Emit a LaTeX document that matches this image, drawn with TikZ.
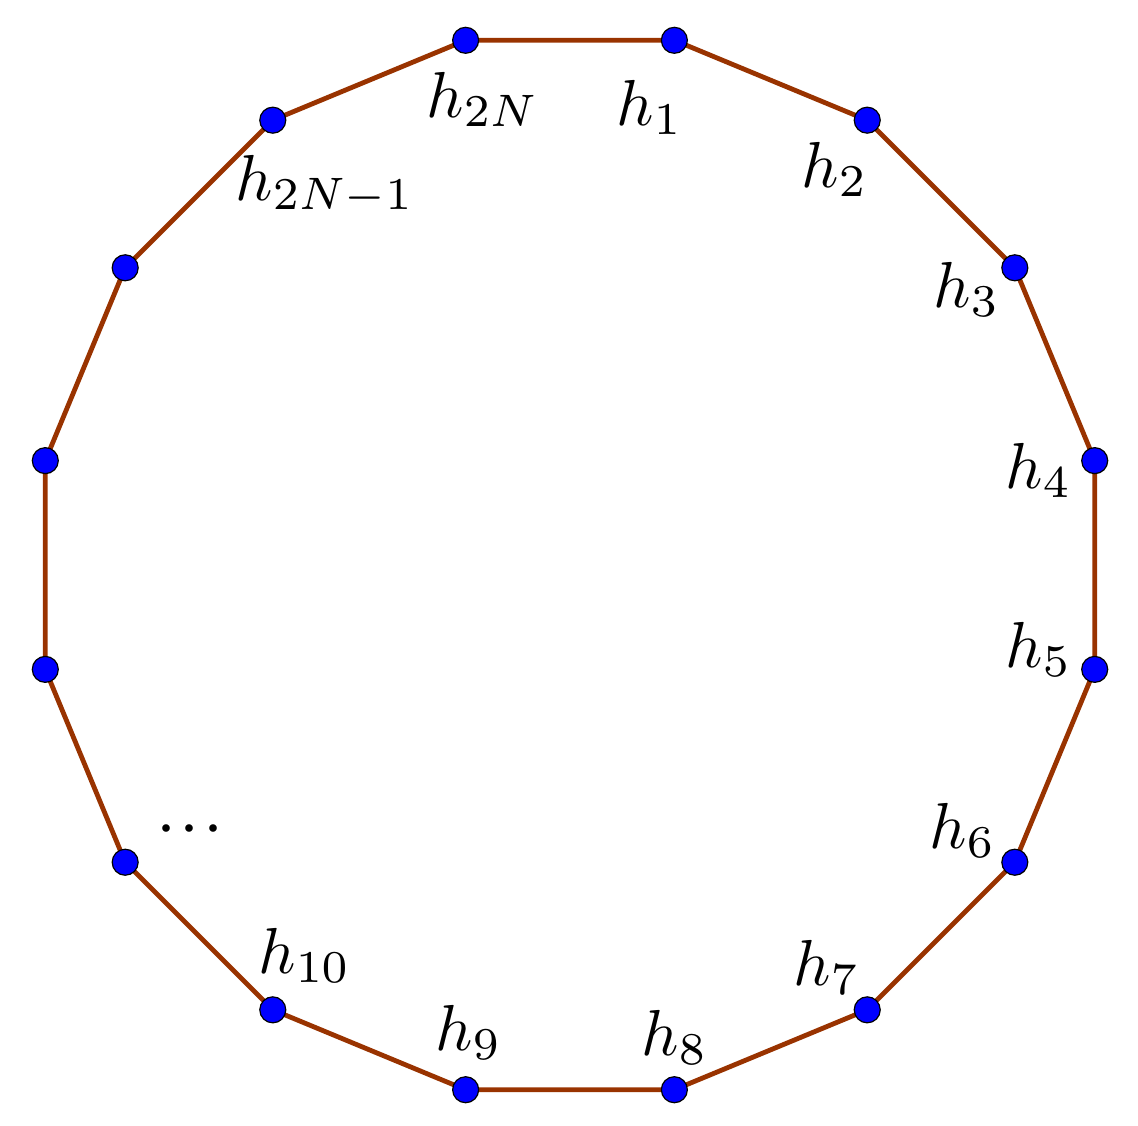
\documentclass[tikz,border=0pt]{standalone}
\usepackage{amsmath}
\usepackage{graphicx}
\DeclareMathSizes{10}{10}{7.4}{5.5}
\definecolor{edgebrown}{RGB}{153,51,0}
\definecolor{dotblue}{RGB}{0,0,255}
\newcommand{\biglbl}[1]{\scalebox{3.25}{$#1$}}
\begin{document}
\begin{tikzpicture}[x=0.5pt,y=-0.5pt,
  vtx/.style={circle,fill=dotblue,draw=black,line width=0.6pt,minimum size=13pt,inner sep=0pt},
  edge/.style={draw=edgebrown,line width=2.4pt},
  lbl/.style={anchor=base west,inner sep=0pt}]
\useasboundingbox (0,0) rectangle (1138,1125);
\foreach \i in {0,...,15}{
  \coordinate (p\i) at ({570+535*cos(78.75-22.5*\i)},{565-535*sin(78.75-22.5*\i)});
}
\draw[edge] (p0)--(p1)--(p2)--(p3)--(p4)--(p5)--(p6)--(p7)--(p8)--(p9)--(p10)--(p11)--(p12)--(p13)--(p14)--(p15)--cycle;
\foreach \i in {0,...,15}{ \node[vtx] (v\i) at (p\i) {}; }
\node[lbl] (l1) at (616,125) {\biglbl{h_1}};
\node[lbl] (l2) at (801,187) {\biglbl{h_2}};
\node[lbl] (l3) at (933,307) {\biglbl{h_3}};
\node[lbl] (l4) at (1005,488) {\biglbl{h_4}};
\node[lbl] (l5) at (1005,667) {\biglbl{h_5}};
\node[lbl] (l6) at (929,848) {\biglbl{h_6}};
\node[lbl] (l7) at (793,985) {\biglbl{h_7}};
\node[lbl] (l8) at (641,1055) {\biglbl{h_8}};
\node[lbl] (l9) at (435,1050) {\biglbl{h_9}};
\node[lbl] (l10) at (258,973) {\biglbl{h_{10}}};
\node[lbl] (l2N1) at (235,200) {\biglbl{h_{2N-1}}};
\node[lbl] (l2N) at (426,117) {\biglbl{h_{2N}}};
\node[inner sep=0pt] (dots) at (190,830) {\scalebox{3.6}{$\cdot\!\cdot\!\cdot$}};
\end{tikzpicture}
\end{document}
